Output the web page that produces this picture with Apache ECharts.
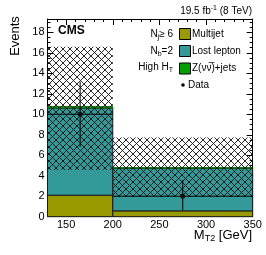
<!DOCTYPE html>
<html><head><meta charset="utf-8">
<script src="https://cdn.jsdelivr.net/npm/echarts@6/dist/echarts.min.js"></script>
<style>html,body{margin:0;padding:0;background:#fff}#c{width:266px;height:255px}</style>
</head><body><div id="c"></div>
<script>
// ---- data ----
const binEdges = [130, 200, 350];
const multijet = [2.1, 0.57];
const lostLepton = [8.5, 4.14];
const zJets = [0.15, 0.09];
const bandLow = [4.55, 1.94];
const bandHigh = [16.6, 7.74];
const dataX = [165, 275];
const dataY = [10, 2];
const dataLow = [6.82, 0.64];
const dataHigh = [13.18, 3.57];
const xMajorTicks = [150, 200, 250, 300, 350];
const xMinorTicks = [140, 160, 170, 180, 190, 210, 220, 230, 240, 260, 270, 280, 290, 310, 320, 330, 340];
const yMajorTicks = [0, 2, 4, 6, 8, 10, 12, 14, 16, 18];
const yMinorTicks = [];
for (let v = 0.5; v < 19.3; v += 0.5) { if (Math.abs(v % 2) > 0.01) yMinorTicks.push(+v.toFixed(2)); }

const FONT = 'Liberation Sans, Arial, sans-serif';
const XMIN = 130, XMAX = 350, YMIN = 0, YMAX = 19.3;

function hatchPattern() {
  const s = 7, c = document.createElement('canvas');
  c.width = s; c.height = s;
  const g = c.getContext('2d');
  g.strokeStyle = '#111'; g.lineWidth = 0.9;
  g.beginPath();
  g.moveTo(-1, -1); g.lineTo(s + 1, s + 1);
  g.moveTo(-1, s + 1); g.lineTo(s + 1, -1);
  g.stroke();
  return c;
}
const hatch = { image: hatchPattern(), repeat: 'repeat' };

function stackRows(lowArr, heightArr) {
  return heightArr.map((h, i) => [binEdges[i], binEdges[i + 1], lowArr[i], lowArr[i] + h]);
}
const mjRows = stackRows([0, 0], multijet);
const llRows = stackRows(multijet, lostLepton);
const zRows = stackRows(multijet.map((m, i) => m + lostLepton[i]), zJets);
const bandRows = bandLow.map((l, i) => [binEdges[i], binEdges[i + 1], l, bandHigh[i]]);
const errRows = dataX.map((x, i) => [x, dataY[i], dataLow[i], dataHigh[i], binEdges[i], binEdges[i + 1]]);

function rectItem(fill, stroke, lw) {
  return function (params, api) {
    const p0 = api.coord([api.value(0), api.value(3)]);
    const p1 = api.coord([api.value(1), api.value(2)]);
    return { type: 'rect', shape: { x: p0[0], y: p0[1], width: p1[0] - p0[0], height: p1[1] - p0[1] },
      style: { fill: fill, stroke: stroke, lineWidth: lw } };
  };
}

function xAxisDef(pos, major, withLine) {
  return { type: 'value', min: XMIN, max: XMAX, position: pos, gridIndex: 0,
    axisLine: { show: withLine, onZero: false, lineStyle: { color: '#000', width: 1 } },
    axisTick: { show: true, inside: true, length: major ? 6 : 3, customValues: major ? xMajorTicks : xMinorTicks, lineStyle: { color: '#000', width: 1 } },
    axisLabel: { show: pos === 'bottom' && major, customValues: xMajorTicks, fontSize: 11, color: '#000', fontFamily: FONT, margin: 3 },
    splitLine: { show: false } };
}
function yAxisDef(pos, major, withLine) {
  return { type: 'value', min: YMIN, max: YMAX, position: pos, gridIndex: 0,
    axisLine: { show: withLine, onZero: false, lineStyle: { color: '#000', width: 1 } },
    axisTick: { show: true, inside: true, length: major ? 6 : 3, customValues: major ? yMajorTicks : yMinorTicks, lineStyle: { color: '#000', width: 1 } },
    axisLabel: { show: pos === 'left' && major, customValues: yMajorTicks, fontSize: 11, color: '#000', fontFamily: FONT, margin: 3 },
    splitLine: { show: false } };
}

const chart = echarts.init(document.getElementById('c'), null, { renderer: 'canvas' });
const legendRowsY = [34, 51, 68.5, 85];
const legendX = 179.5;
const legendItems = [
  { name: 'Multijet', color: '#999900' },
  { name: 'Lost lepton', color: '#339999' },
  { name: 'Z(\u03bd\u03bd\u0305)+jets', color: '#00a000' }
];
const graphics = [];
legendItems.forEach((it, i) => {
  graphics.push({ type: 'rect', shape: { x: legendX, y: legendRowsY[i] - 5.5, width: 11, height: 11 },
    style: { fill: it.color, stroke: '#000', lineWidth: 1 } });
  graphics.push({ type: 'text', x: 192, y: legendRowsY[i], style: { text: it.name, fill: '#000', font: '10px ' + FONT, align: 'left', verticalAlign: 'middle' } });
});
graphics.push({ type: 'circle', shape: { cx: 183, cy: legendRowsY[3], r: 1.8 }, style: { fill: '#000' } });
graphics.push({ type: 'text', x: 188, y: legendRowsY[3], style: { text: 'Data', fill: '#000', font: '10px ' + FONT, align: 'left', verticalAlign: 'middle' } });

const subRich = {
  n: { fontSize: 10, fontFamily: FONT, fill: '#000', lineHeight: 14 },
  s: { fontSize: 7, fontFamily: FONT, fill: '#000', lineHeight: 14, verticalAlign: 'bottom', padding: [5, 0, 0, 0] }
};
function richText(x, y, text, align, rich, extra) {
  return Object.assign({ type: 'text', x: x, y: y, style: { text: text, rich: rich, align: align, verticalAlign: 'middle', fill: '#000' } }, extra || {});
}
graphics.push(richText(173, 34, '{n|N}{s|j}{n|\u2265 6}', 'right', subRich));
graphics.push(richText(173, 51, '{n|N}{s|b}{n|=2}', 'right', subRich));
graphics.push(richText(173, 67, '{n|High H}{s|T}', 'right', subRich));
graphics.push({ type: 'text', x: 58, y: 31, style: { text: 'CMS', fill: '#000', font: 'bold 12px ' + FONT, align: 'left', verticalAlign: 'middle' } });
graphics.push(richText(252, 11, '{n|19.5 fb}{p|-1}{n| (8 TeV)}', 'right', {
  n: { fontSize: 10, fontFamily: FONT, fill: '#000', lineHeight: 12 },
  p: { fontSize: 7, fontFamily: FONT, fill: '#000', lineHeight: 12, verticalAlign: 'top', padding: [0, 0, 4, 0] }
}));
graphics.push(richText(252, 235, '{n|M}{s|T2}{n| [GeV]}', 'right', {
  n: { fontSize: 13, fontFamily: FONT, fill: '#000', lineHeight: 16 },
  s: { fontSize: 9, fontFamily: FONT, fill: '#000', lineHeight: 16, verticalAlign: 'bottom', padding: [5, 0, 0, 0] }
}));
graphics.push({ type: 'text', x: 15, y: 36, rotation: Math.PI / 2, style: { text: 'Events', fill: '#000', font: '13px ' + FONT, align: 'center', verticalAlign: 'middle' } });

chart.setOption({
  animation: false,
  backgroundColor: '#fff',
  grid: { left: 47.5, right: 13.3, top: 19, bottom: 38.3, containLabel: false },
  xAxis: [xAxisDef('bottom', true, true), xAxisDef('top', true, true), xAxisDef('bottom', false, false), xAxisDef('top', false, false)],
  yAxis: [yAxisDef('left', true, true), yAxisDef('right', true, true), yAxisDef('left', false, false), yAxisDef('right', false, false)],
  graphic: graphics,
  series: [
    { type: 'custom', name: 'Multijet', data: mjRows, encode: { x: [0, 1], y: [2, 3] }, renderItem: rectItem('#999900', '#1a1a1a', 1), z: 2 },
    { type: 'custom', name: 'Lost lepton', data: llRows, encode: { x: [0, 1], y: [2, 3] }, renderItem: rectItem('#339999', '#1a1a1a', 1), z: 2 },
    { type: 'custom', name: 'Z', data: zRows, encode: { x: [0, 1], y: [2, 3] }, renderItem: rectItem('#00a000', '#006400', 0.8), z: 3 },
    { type: 'custom', name: 'Uncertainty', data: bandRows, encode: { x: [0, 1], y: [2, 3] }, renderItem: rectItem(hatch, null, 0), z: 4 },
    { type: 'custom', name: 'DataErr', data: errRows, encode: { x: 0, y: [1, 2, 3] }, z: 5,
      renderItem: function (params, api) {
        const top = api.coord([api.value(0), api.value(3)]);
        const bot = api.coord([api.value(0), api.value(2)]);
        const l = api.coord([api.value(4), api.value(1)]);
        const r = api.coord([api.value(5), api.value(1)]);
        return { type: 'group', children: [
          { type: 'line', shape: { x1: top[0], y1: top[1], x2: bot[0], y2: bot[1] }, style: { stroke: '#000', lineWidth: 1 } },
          { type: 'line', shape: { x1: l[0], y1: l[1], x2: r[0], y2: r[1] }, style: { stroke: '#000', lineWidth: 1 } }
        ] };
      } },
    { type: 'scatter', name: 'Data', data: dataX.map((x, i) => [x, dataY[i]]), symbol: 'circle', symbolSize: 5, itemStyle: { color: '#000' }, z: 6 }
  ]
});
</script>
</body></html>
